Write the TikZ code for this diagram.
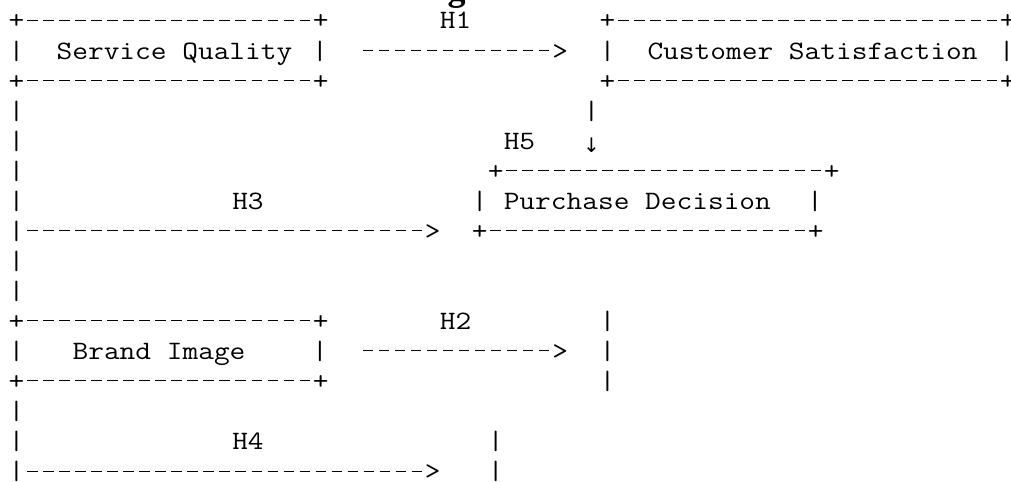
\documentclass[tikz,border=0pt]{standalone}
\usepackage{fontspec}
\setmonofont{Latin Modern Mono}[FakeStretch=1.15]
\newfontfamily\titlefont{Liberation Serif}
\newfontfamily\arrowfont{DejaVu Sans}
% a run of n hyphens, each a short rule centred in its own character cell
\newcommand\dd[1]{\begingroup\count255=#1\relax\loop\makebox[12.015pt][c]{\rule[6.3pt]{7.8pt}{0.75pt}}\advance\count255 by -1\relax\ifnum\count255>0 \repeat\endgroup}
% \asc{name}{column}{row}{text}
\newcommand\asc[4]{\node[asc] (#1) at ({8.7+15.97*#2},{59+30.07*(#3-2)}) {#4};}
\tikzset{
  asc/.style={anchor=base west, inner sep=0pt, outer sep=0pt, text=black,
    font=\ttfamily\fontsize{19.9}{24}\selectfont},
  ttl/.style={anchor=base, inner sep=0pt, outer sep=0pt, text=black,
    font=\titlefont\bfseries\fontsize{27}{30}\selectfont},
  arr/.style={anchor=base, inner sep=0pt, outer sep=0pt, text=black,
    font=\arrowfont\fontsize{15}{17}\selectfont}
}
\begin{document}
\begin{tikzpicture}[x=0.75pt,y=-0.75pt]
\fill[white] (0,0) rectangle (1011,482);
\useasboundingbox (0,0) rectangle (1011,482);
% cut-off title descender
\node[ttl] (title) at (456.5,0.3) {g};
% row 1
\asc{sqT}{0}{1}{+\dd{18}+}
\asc{hA}{27}{1}{H1}
\asc{csT}{37}{1}{+\dd{24}+}
% row 2
\asc{sqL}{0}{2}{|}
\asc{sq}{3}{2}{Service Quality}
\asc{sqR}{19}{2}{|}
\asc{aA}{22}{2}{\dd{12}>}
\asc{csL}{37}{2}{|}
\asc{cs}{40}{2}{Customer Satisfaction}
\asc{csR}{62}{2}{|}
% row 3
\asc{sqB}{0}{3}{+\dd{18}+}
\asc{csB}{37}{3}{+\dd{24}+}
% row 4
\asc{vA}{0}{4}{|}
\asc{dA}{36}{4}{|}
% row 5
\asc{vB}{0}{5}{|}
\asc{hE}{31}{5}{H5}
\node[arr] (dn) at ({16.7+15.97*36},152.5) {↓};
% row 6
\asc{vC}{0}{6}{|}
\asc{pdT}{30}{6}{+\dd{20}+}
% row 7
\asc{vD}{0}{7}{|}
\asc{hC}{14}{7}{H3}
\asc{pdL}{29}{7}{|}
\asc{pd}{31}{7}{Purchase Decision}
\asc{pdR}{50}{7}{|}
% row 8
\asc{aC}{0}{8}{|\dd{25}>}
\asc{pdB}{29}{8}{+\dd{20}+}
% rows 9-10
\asc{vE}{0}{9}{|}
\asc{vF}{0}{10}{|}
% row 11
\asc{biT}{0}{11}{+\dd{18}+}
\asc{hB}{27}{11}{H2}
\asc{rA}{37}{11}{|}
% row 12
\asc{biL}{0}{12}{|}
\asc{bi}{4}{12}{Brand Image}
\asc{biR}{19}{12}{|}
\asc{aB}{22}{12}{\dd{12}>}
\asc{rB}{37}{12}{|}
% row 13
\asc{biB}{0}{13}{+\dd{18}+}
\asc{rC}{37}{13}{|}
% row 14
\asc{vG}{0}{14}{|}
% row 15
\asc{vH}{0}{15}{|}
\asc{hD}{14}{15}{H4}
\asc{rD}{30}{15}{|}
% row 16
\asc{aD}{0}{16}{|\dd{25}>}
\asc{rE}{30}{16}{|}
\end{tikzpicture}
\end{document}
